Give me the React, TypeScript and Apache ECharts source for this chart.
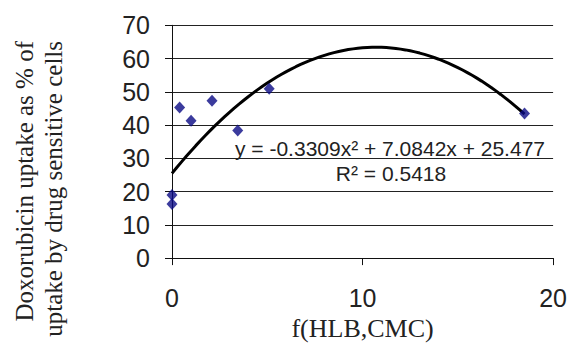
import React, { useEffect, useRef } from 'react';
import * as echarts from 'echarts';

// Measured points (f(HLB,CMC), uptake %)
const xValues = [0.4, 1.0, 2.1, 3.45, 5.1, 18.5, 0, 0];
const yValues = [45.3, 41.3, 47.3, 38.4, 50.9, 43.5, 19.0, 16.3];

// Polynomial trendline coefficients as printed on the chart (a x^2 + b x + c)
const trendCoefficients = [-0.3309, 7.0842, 25.477];
const trendRange = [0, 18.5];

const xTicks = [0, 10, 20];
const yTicks = [0, 10, 20, 30, 40, 50, 60, 70];

const equationText = 'y = -0.3309x² + 7.0842x + 25.477';
const r2Text = 'R² = 0.5418';
const xTitle = 'f(HLB,CMC)';
const yTitle = 'Doxorubicin uptake as % of\nuptake by drug sensitive cells';

export default function App() {
  const ref = useRef<HTMLDivElement>(null);

  useEffect(() => {
    const chart = echarts.init(ref.current!, null, { renderer: 'svg' });
    const points = xValues.map((x, i) => [x, yValues[i]]);
    const [a, b, c] = trendCoefficients;
    const trend: number[][] = [];
    for (let x = trendRange[0]; x <= trendRange[1] + 1e-9; x += 0.25) {
      trend.push([x, a * x * x + b * x + c]);
    }
    const sans = 'Liberation Sans, Arial, sans-serif';
    const serif = 'Liberation Serif, Times New Roman, serif';
    const axisColor = '#111';

    chart.setOption({
      animation: false,
      backgroundColor: '#fff',
      grid: { left: 172, right: 14.5, top: 25.3, bottom: 77.7, containLabel: false },
      xAxis: {
        type: 'value',
        min: xTicks[0],
        max: xTicks[xTicks.length - 1],
        interval: xTicks[1] - xTicks[0],
        axisLine: { show: true, onZero: false, lineStyle: { color: axisColor, width: 1 } },
        axisTick: { show: true, inside: false, length: 7, lineStyle: { color: axisColor } },
        splitLine: { show: false },
        axisLabel: { fontFamily: sans, fontSize: 25, color: '#222', margin: 27 },
        name: xTitle,
        nameLocation: 'middle',
        nameGap: 35,
        nameTextStyle: { fontFamily: serif, fontSize: 26, color: '#222' },
      },
      yAxis: {
        type: 'value',
        min: yTicks[0],
        max: yTicks[yTicks.length - 1],
        interval: yTicks[1] - yTicks[0],
        axisLine: { show: true, onZero: false, lineStyle: { color: axisColor, width: 1 } },
        axisTick: { show: true, inside: false, length: 7, lineStyle: { color: axisColor } },
        splitLine: { show: true, lineStyle: { color: '#222', width: 1 } },
        axisLabel: { fontFamily: sans, fontSize: 25, color: '#222', margin: 22 },
      },
      series: [
        {
          type: 'line',
          data: trend,
          symbol: 'none',
          smooth: false,
          lineStyle: { color: '#000', width: 3 },
          z: 2,
          silent: true,
        },
        {
          type: 'scatter',
          data: points,
          symbol: 'diamond',
          symbolSize: [11, 12],
          itemStyle: { color: '#0a0a85' },
          z: 3,
        },
      ],
      graphic: [
        {
          type: 'text',
          x: 390,
          y: 148,
          style: {
            text: equationText,
            fontFamily: sans,
            fontSize: 21,
            fill: '#222',
            textAlign: 'center',
            textVerticalAlign: 'middle',
          },
        },
        {
          type: 'text',
          x: 391,
          y: 173,
          style: {
            text: r2Text,
            fontFamily: sans,
            fontSize: 21,
            fill: '#222',
            textAlign: 'center',
            textVerticalAlign: 'middle',
          },
        },
        {
          type: 'text',
          x: 39,
          y: 41,
          rotation: Math.PI / 2,
          style: {
            text: yTitle,
            fontFamily: serif,
            fontSize: 25,
            lineHeight: 29,
            fill: '#222',
            textAlign: 'right',
            textVerticalAlign: 'middle',
          },
        },
      ],
    });
    return () => chart.dispose();
  }, []);

  return (
    <div
      ref={ref}
      style={{ position: 'fixed', left: 0, top: 0, width: 570, height: 346, background: '#fff' }}
    />
  );
}
